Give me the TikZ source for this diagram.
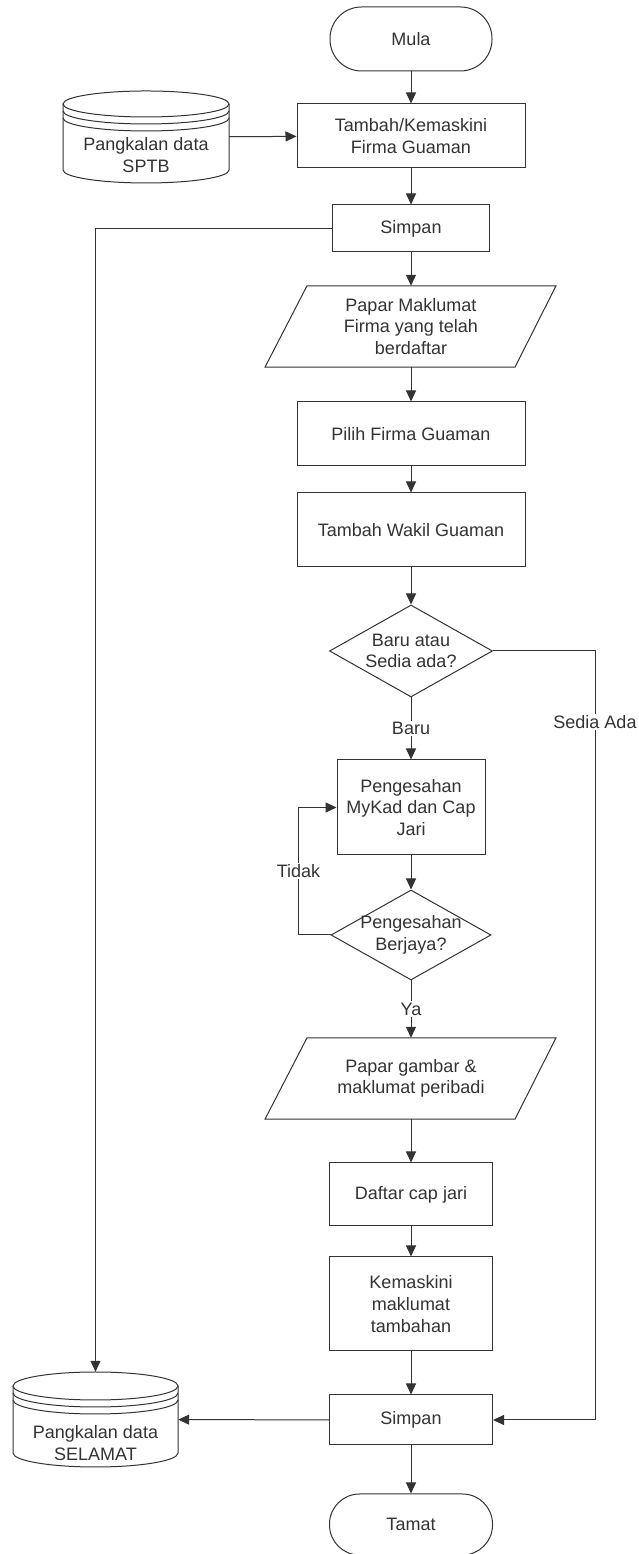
\documentclass[tikz,border=0pt]{standalone}
\usepackage{fontspec}
\setmainfont{Liberation Sans}
\usetikzlibrary{shapes.geometric,arrows.meta}
\definecolor{ink}{HTML}{333333}
\begin{document}
\begin{tikzpicture}[x=1pt,y=1pt,
  every node/.style={font=\fontsize{18}{21.7}\selectfont, text=ink, align=center},
  ln/.style={draw=ink, line width=1pt},
  procbox/.style={ln, rectangle, fill=white, inner sep=2pt},
  termbox/.style={ln, rectangle, fill=white, inner sep=2pt},
  decbox/.style={ln, diamond, fill=white, inner sep=0pt},
  ghost/.style={rectangle, inner sep=0pt},
  lbl/.style={fill=white, inner sep=1.5pt},
  arr/.style={ln, -{Triangle[length=11pt,width=10pt]}}]
\useasboundingbox (0,0) rectangle (639,1554);
\fill[white] (0,0) rectangle (639,1554);

% main column
\node[termbox, minimum width=162pt, minimum height=64pt, rounded corners=31.5pt] (mula) at (411,1515) {Mula};
\node[procbox, minimum width=228pt, minimum height=64pt] (t1) at (411,1418) {Tambah/Kemaskini\\Firma Guaman};
\node[procbox, minimum width=157pt, minimum height=47pt] (s1) at (411,1325.5) {Simpan};
\node[ghost, minimum width=200pt, minimum height=81pt] (p1) at (411,1227.5) {Papar Maklumat\\Firma yang telah\\berdaftar};
\draw[ln] ([xshift=-104pt]p1.north) -- ([xshift=145pt]p1.north) -- ([xshift=104pt]p1.south) -- ([xshift=-146pt]p1.south) -- cycle;
\node[procbox, minimum width=228pt, minimum height=64pt] (pil) at (411,1120) {Pilih Firma Guaman};
\node[procbox, minimum width=228pt, minimum height=74pt] (tw) at (411,1024) {Tambah Wakil Guaman};
\node[decbox, minimum width=163pt, minimum height=92pt] (d1) at (411,903) {};
\node at (d1) {Baru atau\\Sedia ada?};
\node[procbox, minimum width=148pt, minimum height=95pt] (pg) at (411,746.5) {Pengesahan\\MyKad dan Cap\\Jari};
\node[decbox, minimum width=160pt, minimum height=90pt] (d2) at (411,619) {};
\node at (d2) {Pengesahan\\Berjaya?};
\node[ghost, minimum width=200pt, minimum height=81pt] (p2) at (411,475.5) {Papar gambar \&\\maklumat peribadi};
\draw[ln] ([xshift=-104pt]p2.north) -- ([xshift=145pt]p2.north) -- ([xshift=104pt]p2.south) -- ([xshift=-146pt]p2.south) -- cycle;
\node[procbox, minimum width=163pt, minimum height=63pt] (df) at (411,359.5) {Daftar cap jari};
\node[procbox, minimum width=163pt, minimum height=94pt] (km) at (411,250) {Kemaskini\\maklumat\\tambahan};
\node[procbox, minimum width=163pt, minimum height=50pt] (s2) at (411,134) {Simpan};
\node[termbox, minimum width=163pt, minimum height=61pt, rounded corners=30pt] (tm) at (411,29.5) {Tamat};

% database SPTB
\node[ghost, minimum width=166pt, minimum height=92pt] (db1) at (146,1417) {};
\draw[ln, fill=white] (63,1450) -- (63,1384) arc[start angle=180, end angle=360, x radius=83pt, y radius=13pt] -- (229,1450);
\draw[ln] (146,1450) ellipse[x radius=83pt, y radius=13pt];
\draw[ln] (63,1443) arc[start angle=180, end angle=360, x radius=83pt, y radius=13pt];
\draw[ln] (63,1436) arc[start angle=180, end angle=360, x radius=83pt, y radius=13pt];
\node at (146,1399) {Pangkalan data\\SPTB};

% database SELAMAT
\node[ghost, minimum width=165pt, minimum height=95pt] (db2) at (95.5,134.5) {};
\draw[ln, fill=white] (13,168) -- (13,101) arc[start angle=180, end angle=360, x radius=82.5pt, y radius=14pt] -- (178,168);
\draw[ln] (95.5,168) ellipse[x radius=82.5pt, y radius=14pt];
\draw[ln] (13,161) arc[start angle=180, end angle=360, x radius=82.5pt, y radius=14pt];
\draw[ln] (13,154) arc[start angle=180, end angle=360, x radius=82.5pt, y radius=14pt];
\node at (95.5,111) {Pangkalan data\\SELAMAT};

% connectors
\draw[arr] (mula) -- (t1);
\draw[arr] (db1) -- (t1);
\draw[arr] (t1) -- (s1);
\draw[arr] (s1) -- (p1);
\draw[arr] (p1) -- (pil);
\draw[arr] (pil) -- (tw);
\draw[arr] (tw) -- (d1);
\draw[arr] (d1) -- node[lbl]{Baru} (pg);
\draw[arr] (pg) -- (d2);
\draw[arr] (d2.west) -- ++(-32pt,0) |- node[lbl, pos=0.25]{Tidak} (pg.west);
\draw[arr] (d2) -- node[lbl]{Ya} (p2);
\draw[arr] (p2) -- (df);
\draw[arr] (df) -- (km);
\draw[arr] (km) -- (s2);
\draw[arr] (s2) -- (tm);
\draw[arr] (s2) -- (db2);
\draw[arr] (s1.west) -| (db2.north);
\draw[arr] (d1.east) -- ++(102.5pt,0) |- (s2.east);
\node[lbl] (sa) at (595,832) {Sedia Ada};
\end{tikzpicture}
\end{document}
